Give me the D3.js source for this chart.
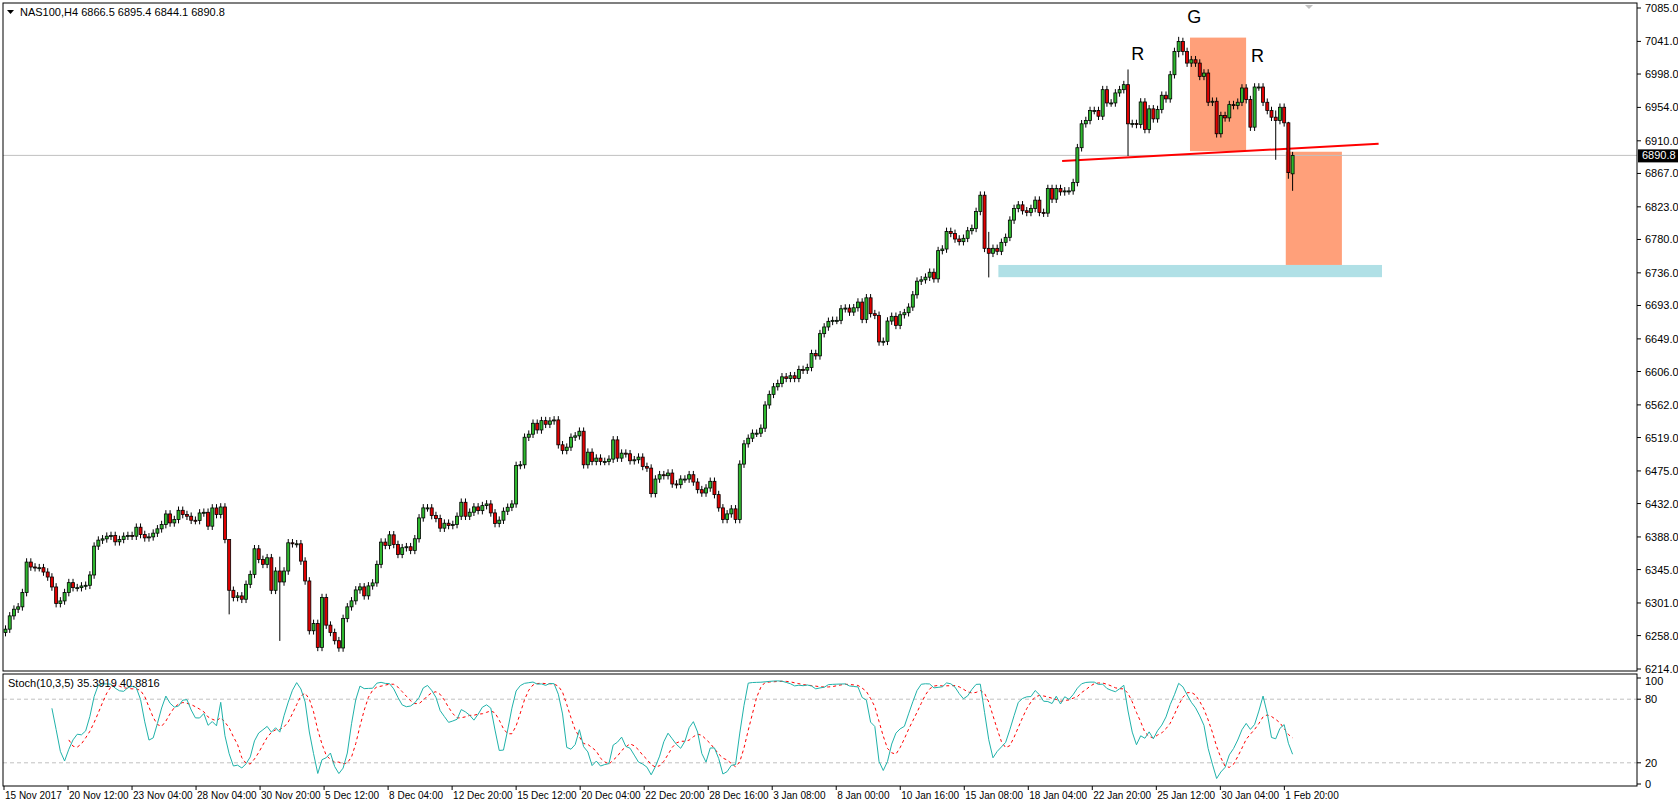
<!DOCTYPE html>
<html><head><meta charset="utf-8">
<script src="https://cdn.jsdelivr.net/npm/d3@7"></script>
<style>body{margin:0;background:#fff}svg{display:block}text{font-family:"Liberation Sans",Arial,sans-serif}</style>
</head><body><svg id="c" width="1678" height="808"></svg>
<script>
// closes of each H4 bar (left to right)
const closes = [
6266.5,6284,6292.8,6295.9,6314.7,6354.9,6348.4,6347.5,6347.5,6341.8,6335.2,6322.1,6300.2,6303.7,6314.7,6327.8,6321.2,6321.2,6323.4,6324.3,
6337.9,6375.9,6383.8,6385.5,6389,6389.9,6381.6,6384.7,6389,6389.9,6389,6400.8,6391.2,6386.8,6388.1,6393,6398.7,6404.3,6418.3,6406.5,
6410.9,6423.1,6417.5,6415.3,6410,6409.6,6419.6,6420.5,6402.2,6426.2,6417.5,6427.5,6384.7,6317.7,6308.1,6310.3,6305.9,6325.6,6338.7,6372.4,
6358.4,6351.9,6360.6,6317.7,6343.1,6328.7,6343.1,6380.3,6379,6379,6356.2,6330,6264.4,6274,6242.5,6308.1,
6271.8,6262.2,6251.3,6241.7,6280.6,6295.9,6303.8,6318.2,6322.2,6310.4,6323.5,6327.4,6351.9,6381.2,6376.8,6390.8,6378.1,6365,6373.8,6375.1,
6370.3,6385.6,6413.1,6426.3,6426.3,6416.2,6412.3,6399.6,6406.1,6403.1,6404.4,6415.3,6433.7,6415.3,6420.6,6427.6,6422.7,6429.3,6431.5,6419.7,
6405.7,6410.1,6421.9,6427.1,6431.5,6482.2,6483.1,6519.4,6523.4,6537.8,6529,6541.3,6536.5,6540.9,6542.2,6509.4,6501.9,6506.3,6519.4,6521.2,
6527.3,6483.1,6499.7,6487.5,6491.9,6487.5,6487.5,6490.6,6515.9,6491.9,6498.4,6497.6,6488.4,6489.7,6493.2,6480.9,6478.7,6445.1,
6464.3,6470,6468.7,6472.2,6457.8,6456.9,6464.3,6464.3,6470,6460.4,6450.3,6445.9,6452.5,6461.3,6443.8,6426.3,6411,6418.4,6425,6411,
6484,6510.7,6518.1,6524.7,6524.7,6531.3,6561.9,6575.9,6585.9,6590.3,6599,6596.9,6600.4,6596.9,6608.7,6607.8,6611.3,6629.7,6626.6,6655.9,
6664.7,6672.1,6673.4,6673.4,6688.7,6689.6,6684.3,6690,6697.5,6674.7,6703.1,6682.2,6680,6645,6645.8,6672.5,6678.7,6666.8,6680.8,6683.5,
6690.9,6707.1,6725,6726.8,6730.3,6736.8,6728.1,6765.3,6767.4,6790.6,6788,6780.6,6777.1,6781.5,6791.5,6794.6,6816.9,6838.3,
6768.3,6761.8,6768.3,6764.4,6776.2,6782.8,6805.5,6820.8,6825.6,6817.8,6815.6,6820.8,6831.8,6815.6,6814.7,6847.1,6833.1,6847.1,6842.7,6844,
6844,6855,6900.9,6932.4,6936.7,6949.9,6949.9,6942.4,6977.4,6959.9,6959.9,6973.1,6977.4,6984,6932.4,6932.8,6931.5,6961.2,6924.9,6952.1,
6938.9,6951.2,6970,6965.2,6997.1,7027.7,7040.8,7027.7,7012.4,7016.8,7012.4,6994.9,6999.3,6960.8,6962.1,6919.3,6943.3,6940.2,6957.7,6956.4,
6960.8,6979.6,6964.3,6928,6980.9,6980.9,6960.8,6949.9,6941.1,6936.7,6954.2,6933.7,6868.1,6890.8
];
// bars whose wicks stick out notably: index -> [high, low]
const wicks = {53:[6330,6286],65:[6362,6251],233:[6790,6730],266:[7004,6890],278:[7047,7020],301:[6950,6885],304:[6935,6860],305:[6895.4,6844.1]};
const lastOpen = 6866.5;
const priceTicks = [7085,7041,6998,6954,6910,6867,6823,6780,6736,6693,6649,6606,6562,6519,6475,6432,6388,6345,6301,6258,6214];
const dateLabels = ["15 Nov 2017","20 Nov 12:00","23 Nov 04:00","28 Nov 04:00","30 Nov 20:00","5 Dec 12:00","8 Dec 04:00","12 Dec 20:00","15 Dec 12:00","20 Dec 04:00","22 Dec 20:00","28 Dec 16:00","3 Jan 08:00","8 Jan 00:00","10 Jan 16:00","15 Jan 08:00","18 Jan 04:00","22 Jan 20:00","25 Jan 12:00","30 Jan 04:00","1 Feb 20:00"];
const labelEvery = 15.17; // bars between date labels in this reading
const stochTicks = [100,80,20,0];
// pattern markup: [index0, index1, price0, price1]
const neck = [250.5,325.5,6883.3,6906.1];
const boxes = [[280.8,294.1,7046,6896.4,"#ffa07a"],[303.5,316.8,6895.6,6746.4,"#ffa07a"],[235.4,326.3,6746.4,6730.3,"#b0e0e6"]];
const letters = [["R",268.4,7016.8],["G",281.8,7065],["R",296.8,7013.7]];
const last = 6890.8;

const bars = closes.map((c,i)=>{
  const o = i===closes.length-1 ? lastOpen : (i?closes[i-1]:6262);
  const w = wicks[i];
  return {o,c,h:w?Math.max(w[0],o,c):Math.max(o,c)+5,l:w?Math.min(w[1],o,c):Math.min(o,c)-5};
});

const svg = d3.select("#c");
const L=3,R=1637,T=3,B=671,ST=674,SB=786;
const x = d3.scaleLinear().domain([0,1]).range([5,5+4.22]);
const y = d3.scaleLinear().domain([6214,7085]).range([669,8]);
const ys = d3.scaleLinear().domain([0,100]).range([784,678]);

const plot = svg.append("g");
plot.append("clipPath").attr("id","cp").append("rect").attr("x",L).attr("y",T).attr("width",R-L).attr("height",B-T);
const g = plot.append("g").attr("clip-path","url(#cp)");

boxes.forEach(b=>g.append("rect").attr("x",x(b[0])).attr("width",x(b[1])-x(b[0]))
  .attr("y",y(b[2])).attr("height",y(b[3])-y(b[2])).attr("fill",b[4]));
g.append("line").attr("x1",L).attr("x2",R).attr("y1",y(last)).attr("y2",y(last)).attr("stroke","#c0c0c0");
g.append("line").attr("x1",x(neck[0])).attr("x2",x(neck[1])).attr("y1",y(neck[2])).attr("y2",y(neck[3])).attr("stroke","#ff0000").attr("stroke-width",2);

const cg = g.selectAll("g.bar").data(bars).join("g");
cg.append("line").attr("x1",(d,i)=>x(i)+0.5).attr("x2",(d,i)=>x(i)+0.5).attr("y1",d=>y(d.h)).attr("y2",d=>y(d.l)).attr("stroke","#000");
cg.append("rect").attr("x",(d,i)=>x(i)-1).attr("width",3)
  .attr("y",d=>y(Math.max(d.o,d.c))).attr("height",d=>Math.max(1,Math.abs(y(d.o)-y(d.c))))
  .attr("fill",d=>d.c>=d.o?"#2eb82e":"#e00000").attr("stroke","#000").attr("stroke-width",0.8);

letters.forEach(t=>g.append("text").attr("x",x(t[1])).attr("y",y(t[2])).attr("text-anchor","middle")
  .attr("font-size",18).attr("fill","#000").text(t[0]));

// stochastic (10,3,5) computed from the bars
const K=10,S=3,D=5, kv=[];
const hl = bars.map((b,i)=>{ if(i<K-1) return null;
  const w=bars.slice(i-K+1,i+1); return [b.c-d3.min(w,d=>d.l), d3.max(w,d=>d.h)-d3.min(w,d=>d.l)]; });
hl.forEach((v,i)=>{ if(i<K+S-2){kv.push(null);return;}
  const a=hl.slice(i-S+1,i+1); kv.push(100*d3.sum(a,d=>d[0])/d3.sum(a,d=>d[1])); });
const dv = kv.map((v,i)=>{ const a=kv.slice(Math.max(0,i-D+1),i+1); return (i<K+S-2+D-1)?null:d3.mean(a); });
svg.append("line").attr("x1",L).attr("x2",R).attr("y1",ys(80)).attr("y2",ys(80)).attr("stroke","#c0c0c0").attr("stroke-dasharray","4,3");
svg.append("line").attr("x1",L).attr("x2",R).attr("y1",ys(20)).attr("y2",ys(20)).attr("stroke","#c0c0c0").attr("stroke-dasharray","4,3");
const ln = arr=>d3.line().defined(v=>v!=null).x((v,i)=>x(i)+0.5).y(v=>ys(v))(arr);
svg.append("path").attr("d",ln(dv)).attr("fill","none").attr("stroke","#ff0000").attr("stroke-dasharray","3,3");
svg.append("path").attr("d",ln(kv)).attr("fill","none").attr("stroke","#20b2aa");

// frames
svg.append("rect").attr("x",L).attr("y",T).attr("width",R-L).attr("height",B-T).attr("fill","none").attr("stroke","#000");
svg.append("rect").attr("x",L).attr("y",ST).attr("width",R-L).attr("height",SB-ST).attr("fill","none").attr("stroke","#000");

// price axis
const ya = svg.append("g").attr("font-size",11);
priceTicks.forEach(p=>{ ya.append("line").attr("x1",R).attr("x2",R+4).attr("y1",y(p)).attr("y2",y(p)).attr("stroke","#000");
  ya.append("text").attr("x",R+8).attr("y",y(p)+4).text(p.toFixed(1)); });
ya.append("rect").attr("x",R+1).attr("y",y(last)-6).attr("width",40).attr("height",13).attr("fill","#000");
ya.append("text").attr("x",R+5).attr("y",y(last)+4).attr("fill","#fff").text(last.toFixed(1));
stochTicks.forEach(s=>{ ya.append("line").attr("x1",R).attr("x2",R+4).attr("y1",ys(s)).attr("y2",ys(s)).attr("stroke","#000");
  ya.append("text").attr("x",R+8).attr("y",ys(s)+(s===100?7:4)).text(s); });

// date axis
const xa = svg.append("g").attr("font-size",10);
dateLabels.forEach((t,k)=>{ const xx=x(k*labelEvery)-1;
  xa.append("line").attr("x1",xx).attr("x2",xx).attr("y1",SB).attr("y2",SB+4).attr("stroke","#000");
  xa.append("text").attr("x",xx+1).attr("y",SB+13).text(t); });

// headers
svg.append("path").attr("d","M7,10 L14,10 L10.5,14 Z").attr("fill","#000");
svg.append("text").attr("x",20).attr("y",16).attr("font-size",11).text("NAS100,H4  6866.5 6895.4 6844.1 6890.8");
svg.append("text").attr("x",8).attr("y",ST+13).attr("font-size",11).text("Stoch(10,3,5) 35.3919 40.8816");
svg.append("path").attr("d","M1305,5 L1313,5 L1309,9 Z").attr("fill","#c0c0c0");
</script></body></html>
